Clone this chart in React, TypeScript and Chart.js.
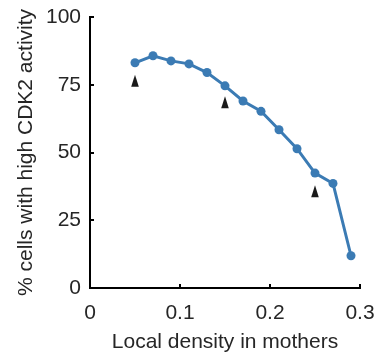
import React, { useEffect, useRef } from "react";
import { Chart, registerables } from "chart.js";

Chart.register(...registerables);

const densities = [0.05, 0.07, 0.09, 0.11, 0.13, 0.15, 0.17, 0.19, 0.21, 0.23, 0.25, 0.27, 0.29];
const highCdk2 = [83.1, 85.7, 83.8, 82.7, 79.5, 74.6, 69.0, 65.2, 58.4, 51.4, 42.4, 38.6, 11.9];
const arrowX = [0.05, 0.15, 0.25];
const arrowY = [74.3, 66.3, 33.5];
const xTicks = [0, 0.1, 0.2, 0.3];
const yTicks = [0, 25, 50, 75, 100];
const xTitle = "Local density in mothers";
const yTitle = "% cells with high CDK2 activity";

const FONT = "'Liberation Sans', Arial, sans-serif";
const TEXT = "#262626";
const BLUE = "#3b7bb4";

const arrowPlugin = {
  id: "arrowheads",
  afterDatasetsDraw(chart: any) {
    const meta = chart.getDatasetMeta(1);
    const ctx = chart.ctx;
    ctx.save();
    ctx.fillStyle = "#1a1a1a";
    meta.data.forEach((pt: any) => {
      const x = pt.x;
      const yb = pt.y;
      ctx.beginPath();
      ctx.moveTo(x, yb - 12);
      ctx.lineTo(x + 3.8, yb);
      ctx.lineTo(x - 3.8, yb);
      ctx.closePath();
      ctx.fill();
    });
    ctx.restore();
  },
};

export default function App() {
  const ref = useRef<HTMLCanvasElement | null>(null);
  useEffect(() => {
    if (!ref.current) return;
    const chart = new Chart(ref.current, {
      type: "scatter",
      data: {
        datasets: [
          {
            data: densities.map((x, i) => ({ x, y: highCdk2[i] })),
            showLine: true,
            borderColor: BLUE,
            backgroundColor: BLUE,
            borderWidth: 3,
            pointRadius: 4.5,
            pointBorderWidth: 0,
          },
          {
            data: arrowX.map((x, i) => ({ x, y: arrowY[i] })),
            pointRadius: 0,
            showLine: false,
          },
        ],
      },
      options: {
        animation: false,
        responsive: true,
        maintainAspectRatio: false,
        layout: { padding: { top: 17, right: 25, left: 0, bottom: 0 } },
        plugins: { legend: { display: false }, tooltip: { enabled: false } },
        scales: {
          x: {
            type: "linear",
            min: 0,
            max: 0.3,
            afterBuildTicks: (s: any) => {
              s.ticks = xTicks.map((v) => ({ value: v }));
            },
            afterFit: (s: any) => {
              s.height = 72;
              s.paddingLeft = 0;
              s.paddingRight = 0;
            },
            border: { display: true, color: "#000", width: 2 },
            grid: { drawOnChartArea: false, drawTicks: true, tickLength: -4, color: "#000", lineWidth: 2 },
            ticks: {
              color: TEXT,
              font: { family: FONT, size: 21 },
              padding: 17,
              maxRotation: 0,
              callback: (v: any) => String(v),
            },
            title: {
              display: true,
              text: xTitle,
              color: TEXT,
              font: { family: FONT, size: 21 },
              padding: { top: 0, bottom: 5 },
            },
          },
          y: {
            type: "linear",
            min: 0,
            max: 100,
            afterBuildTicks: (s: any) => {
              s.ticks = yTicks.map((v) => ({ value: v }));
            },
            afterFit: (s: any) => {
              s.width = 90;
              s.paddingTop = 0;
              s.paddingBottom = 0;
            },
            border: { display: true, color: "#000", width: 2 },
            grid: { drawOnChartArea: false, drawTicks: true, tickLength: -4, color: "#000", lineWidth: 2 },
            ticks: {
              color: TEXT,
              font: { family: FONT, size: 21 },
              padding: 13,
              callback: (v: any) => String(v),
            },
            title: {
              display: true,
              text: yTitle,
              color: TEXT,
              font: { family: FONT, size: 21 },
              padding: { top: 14, bottom: 0 },
            },
          },
        },
      },
      plugins: [arrowPlugin],
    });
    return () => chart.destroy();
  }, []);
  return (
    <div style={{ position: "fixed", left: 0, top: 0, width: 385, height: 360, background: "#fff" }}>
      <canvas ref={ref} />
    </div>
  );
}
